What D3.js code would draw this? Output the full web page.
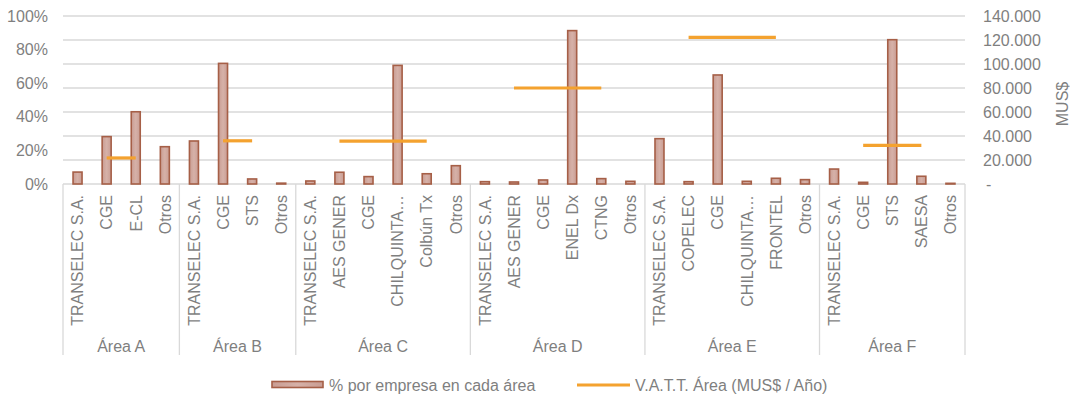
<!DOCTYPE html>
<html>
<head>
<meta charset="utf-8">
<script src="https://cdn.jsdelivr.net/npm/d3@7"></script>
<style>
  html, body { margin: 0; padding: 0; background: #fff; }
  svg { display: block; font-family: "Liberation Sans", Arial, sans-serif; }
</style>
</head>
<body>
<svg id="chart" width="1070" height="398"></svg>
<script>
// ---- data ----
const areas = ["Área A", "Área B", "Área C", "Área D", "Área E", "Área F"];
const companies = [
  ["TRANSELEC S.A.", "CGE", "E-CL", "Otros"],
  ["TRANSELEC S.A.", "CGE", "STS", "Otros"],
  ["TRANSELEC S.A.", "AES GENER", "CGE", "CHILQUINTA…", "Colbún Tx", "Otros"],
  ["TRANSELEC S.A.", "AES GENER", "CGE", "ENEL Dx", "CTNG", "Otros"],
  ["TRANSELEC S.A.", "COPELEC", "CGE", "CHILQUINTA…", "FRONTEL", "Otros"],
  ["TRANSELEC S.A.", "CGE", "STS", "SAESA", "Otros"]
];
const sharePct = [
  [0.071, 0.282, 0.430, 0.222],
  [0.256, 0.718, 0.030, 0.005],
  [0.018, 0.070, 0.044, 0.706, 0.061, 0.109],
  [0.014, 0.012, 0.024, 0.913, 0.032, 0.016],
  [0.270, 0.014, 0.649, 0.016, 0.034, 0.026],
  [0.089, 0.010, 0.859, 0.046, 0.004]
];
const vattArea = [21700, 36000, 35800, 80000, 122200, 32200];
const leftTicks = [0, 0.2, 0.4, 0.6, 0.8, 1.0];
const rightTicks = [0, 20000, 40000, 60000, 80000, 100000, 120000, 140000];
const legendLabels = ["% por empresa en cada área", "V.A.T.T. Área (MUS$ / Año)"];
const rightAxisTitle = "MUS$";

// ---- layout ----
const svg = d3.select("#chart");
const X0 = 63, X1 = 965, Y0 = 184, Y1 = 16;
const textColor = "#7f7f7f";
const gridColor = "#d9d9d9";
const fontSize = "16px";

const rows = [];
areas.forEach((a, i) => companies[i].forEach((c, j) => rows.push({area: a, ai: i, company: c, key: a + "|" + j, value: sharePct[i][j]})));

const x = d3.scaleBand().domain(rows.map(r => r.key)).range([X0, X1]).padding(0);
const yL = d3.scaleLinear().domain([0, 1]).range([Y0, Y1]);
const yR = d3.scaleLinear().domain([0, 140000]).range([Y0, Y1]);

// gradient for bars
const defs = svg.append("defs");
const grad = defs.append("linearGradient").attr("id", "barGrad").attr("x1", 0).attr("x2", 1).attr("y1", 0).attr("y2", 0);
grad.append("stop").attr("offset", "0%").attr("stop-color", "#c99d93");
grad.append("stop").attr("offset", "50%").attr("stop-color", "#d6b1a8");
grad.append("stop").attr("offset", "100%").attr("stop-color", "#c99d93");

// gridlines (from right axis ticks)
svg.append("g").selectAll("line").data(rightTicks.slice(1)).join("line")
  .attr("x1", X0).attr("x2", X1)
  .attr("y1", d => yR(d)).attr("y2", d => yR(d))
  .attr("stroke", gridColor).attr("stroke-width", 1.3);

// left axis
const leftAxis = d3.axisLeft(yL).tickValues(leftTicks).tickFormat(d3.format(".0%")).tickSize(0).tickPadding(15);
const gL = svg.append("g").attr("transform", `translate(${X0},0)`).call(leftAxis);
gL.select(".domain").remove();
gL.selectAll("text").attr("fill", textColor).style("font-size", fontSize).style("font-family", "Liberation Sans, Arial, sans-serif");

// right axis
const fmtR = d => d === 0 ? "-" : d3.format(",")(d).replace(/,/g, ".");
const rightAxis = d3.axisRight(yR).tickValues(rightTicks).tickFormat(fmtR).tickSize(0).tickPadding(18);
const gR = svg.append("g").attr("transform", `translate(${X1},0)`).call(rightAxis);
gR.select(".domain").remove();
gR.selectAll("text").attr("fill", textColor).style("font-size", fontSize).style("font-family", "Liberation Sans, Arial, sans-serif")
  .attr("dx", d => d === 0 ? 3 : 0);

// right axis title
svg.append("text").attr("transform", "translate(1062,104) rotate(-90)")
  .attr("text-anchor", "middle").attr("dy", "0.35em")
  .attr("fill", textColor).style("font-size", fontSize).text(rightAxisTitle);

// bottom axis line
svg.append("line").attr("x1", X0).attr("x2", X1).attr("y1", Y0).attr("y2", Y0)
  .attr("stroke", gridColor).attr("stroke-width", 1.3);

// group separators
const bounds = [];
let idx = 0;
companies.forEach((cs, i) => { bounds.push(x(rows[idx].key)); idx += cs.length; });
bounds.push(X1);
svg.append("g").selectAll("line").data(bounds).join("line")
  .attr("x1", d => d).attr("x2", d => d).attr("y1", Y0).attr("y2", 355)
  .attr("stroke", gridColor).attr("stroke-width", 1.3);

// bars
const bw = 9;
svg.append("g").selectAll("rect").data(rows).join("rect")
  .attr("x", d => x(d.key) + x.bandwidth() / 2 - bw / 2)
  .attr("y", d => yL(d.value))
  .attr("width", bw)
  .attr("height", d => Y0 - yL(d.value))
  .attr("fill", "url(#barGrad)")
  .attr("stroke", "#a65f47").attr("stroke-width", 1.6);

// VATT line segments
const segs = areas.map((a, i) => {
  const n = companies[i].length;
  return {ai: i, from: x(a + "|1") + x.bandwidth() / 2, to: x(a + "|" + (n - 2)) + x.bandwidth() / 2, v: vattArea[i]};
});
svg.append("g").selectAll("line").data(segs).join("line")
  .attr("x1", d => d.from).attr("x2", d => d.to)
  .attr("y1", d => yR(d.v)).attr("y2", d => yR(d.v))
  .attr("stroke", "#f4a22f").attr("stroke-width", 3.2);

// category labels
svg.append("g").selectAll("text").data(rows).join("text")
  .attr("transform", d => `translate(${x(d.key) + x.bandwidth() / 2},195) rotate(-90)`)
  .attr("text-anchor", "end").attr("dy", "0.36em")
  .attr("fill", textColor).style("font-size", fontSize)
  .text(d => d.company);

// area labels
svg.append("g").selectAll("text").data(areas).join("text")
  .attr("x", (d, i) => (bounds[i] + bounds[i + 1]) / 2)
  .attr("y", 352)
  .attr("text-anchor", "middle")
  .attr("fill", textColor).style("font-size", fontSize)
  .text(d => d);

// legend
const lg = svg.append("g");
lg.append("rect").attr("x", 272).attr("y", 381.5).attr("width", 51).attr("height", 6)
  .attr("fill", "url(#barGrad)").attr("stroke", "#a65f47").attr("stroke-width", 1.6);
lg.append("text").attr("x", 329).attr("y", 385).attr("dy", "0.35em")
  .attr("fill", textColor).style("font-size", fontSize).text(legendLabels[0]);
lg.append("line").attr("x1", 577).attr("x2", 630).attr("y1", 385).attr("y2", 385)
  .attr("stroke", "#f4a22f").attr("stroke-width", 3.2);
lg.append("text").attr("x", 635).attr("y", 385).attr("dy", "0.35em")
  .attr("fill", textColor).style("font-size", fontSize).text(legendLabels[1]);
</script>
</body>
</html>
